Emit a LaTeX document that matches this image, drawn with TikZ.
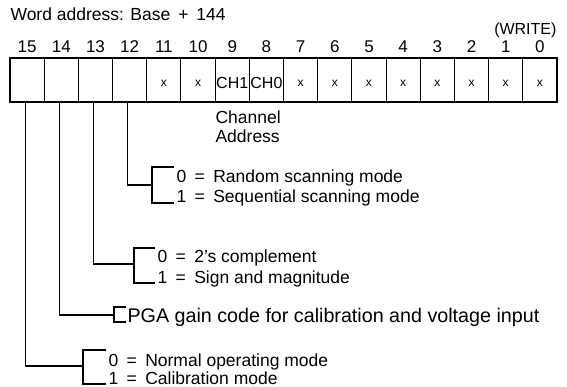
\documentclass[tikz,border=0pt]{standalone}
\usepackage{fontspec}
\setmainfont{Liberation Sans}
\newcommand{\eqsp}{\hspace{0.48em}=\hspace{0.48em}}
\newcommand{\plsp}{\hspace{0.45em}+\hspace{0.45em}}
\begin{document}
\begin{tikzpicture}[x=1pt,y=-1pt,line width=1.1pt,
  cell/.style={draw, minimum width=34.1875pt, minimum height=44pt, inner sep=0pt, outer sep=0pt, anchor=north west},
  bitnum/.style={font=\fontsize{17}{20}\selectfont, anchor=base, inner sep=0pt},
  txt/.style={font=\fontsize{17.5}{20}\selectfont, anchor=base west, inner sep=0pt},
  bigtxt/.style={font=\fontsize{19.7}{22}\selectfont, anchor=base west, inner sep=0pt},
  xmark/.style={font=\fontsize{12}{14}\selectfont, inner sep=0pt},
  chmark/.style={font=\fontsize{16}{18}\selectfont, inner sep=0pt}]
\useasboundingbox (0,0) rectangle (567,387);

\node[txt] (title) at (10,21) {Word address: Base\plsp 144};
\node[txt, font=\fontsize{16}{18}\selectfont, anchor=base east] (write) at (557,35) {(WRITE)};

% cells
\foreach \b in {15,14,...,0} {
  \node[cell] (c\b) at ({10+(15-\b)*34.1875},58) {};
  \node[bitnum] (n\b) at ({10+(15-\b)*34.1875+17.1},53) {\b};
}
\foreach \b in {11,10,7,6,5,4,3,2,1,0} {
  \node[xmark] (x\b) at ([yshift=-3pt]c\b.center) {x};
}
\node[chmark] (ch1) at ([yshift=-3pt]c9.center) {CH1};
\node[chmark] (ch0) at ([yshift=-3pt]c8.center) {CH0};

\node[txt] (chan) at (215,124) {Channel};
\node[txt] (addr) at (215,143) {Address};

% bit 12
\coordinate (j12) at (152,185);
\coordinate (t12) at (174,167);
\coordinate (u12) at (174,203);
\draw ([xshift=-2pt]c12.south) |- (j12);
\draw (t12) -- (t12 -| j12) -- (u12 -| j12) -- (u12);
\node[txt] (r0) at (176,183) {0\eqsp Random scanning mode};
\node[txt] (r1) at (176,203) {1\eqsp Sequential scanning mode};

% bit 13
\coordinate (j13) at (134,264);
\coordinate (t13) at (155,248);
\coordinate (u13) at (155,283);
\draw ([xshift=-2pt]c13.south) |- (j13);
\draw (t13) -- (t13 -| j13) -- (u13 -| j13) -- (u13);
\node[txt] (s0) at (157,262) {0\eqsp 2's complement};
\node[txt] (s1) at (157,283) {1\eqsp Sign and magnitude};

% bit 14
\coordinate (j14) at (114,315);
\coordinate (t14) at (126,307);
\coordinate (u14) at (126,322);
\draw ([xshift=-2pt]c14.south) |- (j14);
\draw (t14) -- (t14 -| j14) -- (u14 -| j14) -- (u14);
\node[bigtxt] (pga) at (127,322) {PGA gain code for calibration and voltage input};

% bit 15
\coordinate (j15) at (83,366);
\coordinate (t15) at (106,350);
\coordinate (u15) at (106,384);
\draw ([xshift=-2pt]c15.south) |- (j15);
\draw (t15) -- (t15 -| j15) -- (u15 -| j15) -- (u15);
\node[txt] (m0) at (108,366) {0\eqsp Normal operating mode};
\node[txt] (m1) at (108,384) {1\eqsp Calibration mode};
\end{tikzpicture}
\end{document}
